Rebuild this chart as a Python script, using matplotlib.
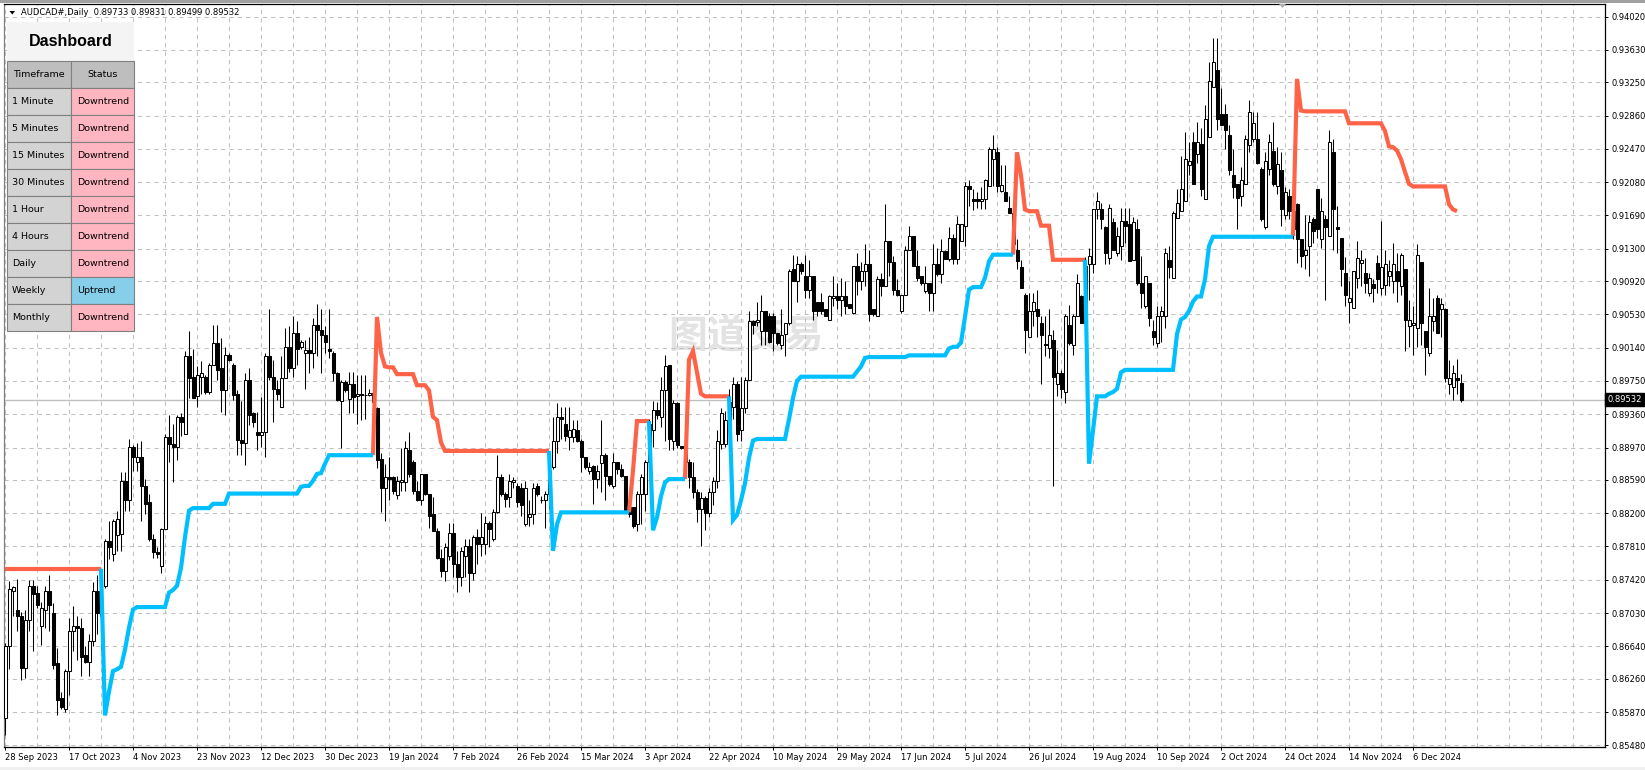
import matplotlib.pyplot as plt
from matplotlib.patches import Rectangle, Polygon
import matplotlib.transforms as mtransforms

plt.rcParams['font.family'] = ['DejaVu Sans']

# AUDCAD daily bars, prices in 1/10000 (8664 -> 0.8664)
opens = [
    8580, 8664, 8729, 8707, 8699, 8639, 8695, 8735, 8727, 8688,
    8707, 8729, 8703, 8644, 8603, 8591, 8635, 8682, 8688, 8686,
    8654, 8646, 8670, 8729, 8703, 8735, 8788, 8772, 8794, 8796,
    8858, 8835, 8898, 8880, 8886, 8852, 8833, 8790, 8775, 8758,
    8801, 8909, 8901, 8898, 8933, 8913, 9004, 8980, 8957, 8980,
    8980, 8962, 8994, 9019, 8990, 8964, 9006, 8994, 8960, 8906,
    8902, 8976, 8937, 8915, 8912, 8915, 9004, 8980, 8966, 8945,
    8978, 9015, 8990, 9031, 9015, 9008, 9011, 9008, 9041, 9035,
    9029, 9013, 9008, 8984, 8951, 8974, 8954, 8971, 8957, 8960,
    8958, 8958, 8961, 8943, 8884, 8849, 8862, 8862, 8841, 8857,
    8856, 8894, 8880, 8846, 8835, 8866, 8843, 8819, 8799, 8768,
    8752, 8770, 8797, 8760, 8745, 8770, 8782, 8750, 8792, 8784,
    8784, 8809, 8790, 8821, 8862, 8843, 8839, 8857, 8852, 8850,
    8807, 8815, 8819, 8852, 8836, 8835, 8843, 8874, 8905, 8933,
    8925, 8909, 8909, 8917, 8905, 8886, 8869, 8875, 8860, 8879,
    8888, 8864, 8852, 8880, 8872, 8864, 8827, 8827, 8807, 8843,
    8843, 8880, 8917, 8941, 8933, 8964, 8994, 8905, 8949, 8899,
    8897, 8880, 8862, 8845, 8825, 8838, 8820, 8845, 8858, 8901,
    8901, 8929, 8945, 8972, 8917, 8943, 8976, 9045, 9044, 9033,
    9057, 9051, 9051, 9031, 9017, 9030, 9043, 9106, 9092, 9112,
    9098, 9082, 9098, 9068, 9068, 9059, 9047, 9072, 9074, 9070,
    9074, 9065, 9055, 9110, 9092, 9104, 9112, 9059, 9051, 9094,
    9086, 9139, 9115, 9082, 9057, 9076, 9129, 9145, 9110, 9098,
    9080, 9090, 9078, 9112, 9100, 9127, 9118, 9143, 9118, 9139,
    9157, 9204, 9188, 9188, 9186, 9188, 9204, 9235, 9243, 9198,
    9197, 9178, 9172, 9129, 9108, 9076, 9027, 9057, 9059, 9043,
    9018, 9014, 9023, 8972, 8984, 8962, 9041, 9017, 9051, 9074,
    9043, 9112, 9112, 9176, 9176, 9155, 9119, 9161, 9125, 9133,
    9163, 9159, 9117, 9153, 9090, 9063, 9090, 9033, 9019, 9051,
    9051, 9117, 9096, 9166, 9174, 9186, 9228, 9255, 9241, 9253,
    9188, 9261, 9320, 9339, 9288, 9288, 9263, 9216, 9206, 9192,
    9206, 9251, 9259, 9259, 9224, 9155, 9224, 9245, 9204, 9222,
    9169, 9192, 9174, 9182, 9141, 9123, 9133, 9165, 9200, 9141,
    9165, 9145, 9243, 9155, 9143, 9102, 9068, 9061, 9096, 9113,
    9102, 9078, 9089, 9113, 9084, 9088, 9098, 9092, 9104, 9086,
    9106, 9039, 9041, 9037, 9115, 9033, 9008, 9045, 9072, 9059,
    9059, 8972, 8968, 8978, 8973,
]
highs = [
    8668, 8741, 8735, 8743, 8704, 8707, 8742, 8742, 8735, 8716,
    8735, 8748, 8715, 8662, 8611, 8638, 8697, 8711, 8699, 8697,
    8664, 8678, 8739, 8748, 8740, 8790, 8811, 8813, 8823, 8868,
    8868, 8907, 8900, 8902, 8905, 8860, 8843, 8796, 8780, 8803,
    8913, 8935, 8925, 8935, 8937, 9010, 9033, 9012, 8992, 8998,
    8982, 8996, 9041, 9041, 9025, 9015, 9008, 8996, 8964, 8951,
    8984, 8990, 8939, 8939, 8956, 9008, 9059, 9000, 8976, 9004,
    9037, 9039, 9051, 9045, 9023, 9023, 9027, 9049, 9065, 9059,
    9039, 9059, 9010, 8986, 8976, 8976, 8986, 8986, 8982, 8982,
    8982, 8966, 8962, 8945, 8890, 8878, 8886, 8864, 8864, 8896,
    8905, 8915, 8882, 8858, 8866, 8866, 8843, 8839, 8803, 8778,
    8785, 8809, 8809, 8776, 8780, 8790, 8790, 8795, 8802, 8820,
    8817, 8811, 8825, 8888, 8866, 8845, 8866, 8862, 8855, 8855,
    8858, 8836, 8855, 8855, 8840, 8846, 8880, 8933, 8949, 8945,
    8945, 8945, 8929, 8929, 8907, 8886, 8880, 8877, 8876, 8929,
    8891, 8864, 8891, 8880, 8878, 8864, 8829, 8827, 8846, 8866,
    8882, 8930, 8951, 8950, 8980, 9006, 8994, 8953, 8950, 8899,
    8900, 8884, 8880, 8848, 8845, 8840, 8850, 8862, 8917, 8943,
    8940, 8965, 8980, 8975, 8980, 8980, 9057, 9047, 9068, 9076,
    9057, 9055, 9055, 9031, 9059, 9043, 9106, 9123, 9121, 9114,
    9123, 9117, 9098, 9068, 9078, 9059, 9076, 9098, 9090, 9096,
    9092, 9065, 9110, 9125, 9114, 9135, 9129, 9059, 9098, 9102,
    9182, 9139, 9121, 9094, 9076, 9133, 9157, 9145, 9129, 9098,
    9110, 9090, 9135, 9131, 9141, 9129, 9155, 9147, 9168, 9159,
    9208, 9210, 9200, 9196, 9202, 9212, 9249, 9263, 9249, 9228,
    9228, 9192, 9175, 9141, 9117, 9078, 9078, 9078, 9082, 9051,
    9051, 9059, 9035, 9011, 8988, 9053, 9064, 9053, 9100, 9076,
    9120, 9131, 9176, 9196, 9184, 9157, 9182, 9166, 9155, 9178,
    9178, 9178, 9167, 9165, 9121, 9098, 9090, 9047, 9063, 9063,
    9131, 9133, 9174, 9200, 9239, 9267, 9255, 9267, 9278, 9271,
    9298, 9349, 9377, 9377, 9318, 9300, 9275, 9247, 9206, 9226,
    9263, 9304, 9290, 9290, 9226, 9243, 9265, 9278, 9249, 9243,
    9202, 9200, 9190, 9184, 9141, 9170, 9170, 9167, 9200, 9190,
    9170, 9269, 9259, 9180, 9143, 9120, 9092, 9104, 9139, 9129,
    9119, 9102, 9094, 9123, 9163, 9129, 9117, 9137, 9125, 9125,
    9106, 9070, 9063, 9135, 9115, 9033, 9084, 9072, 9076, 9072,
    9061, 8999, 8994, 9001, 8983,
]
lows = [
    8560, 8638, 8700, 8682, 8624, 8627, 8682, 8658, 8709, 8666,
    8685, 8682, 8637, 8583, 8591, 8587, 8607, 8658, 8648, 8629,
    8644, 8629, 8664, 8678, 8660, 8732, 8766, 8764, 8776, 8776,
    8823, 8823, 8870, 8870, 8811, 8819, 8788, 8768, 8768, 8750,
    8801, 8880, 8856, 8882, 8910, 8913, 8955, 8955, 8945, 8960,
    8960, 8960, 8994, 8976, 8939, 8935, 8998, 8953, 8888, 8888,
    8876, 8923, 8921, 8894, 8898, 8886, 8976, 8927, 8953, 8945,
    8978, 8986, 8980, 8994, 9013, 8966, 8984, 8990, 9004, 8984,
    9008, 9002, 8975, 8951, 8896, 8962, 8937, 8937, 8925, 8929,
    8931, 8957, 8930, 8873, 8821, 8811, 8835, 8843, 8837, 8846,
    8846, 8862, 8842, 8834, 8830, 8841, 8803, 8799, 8766, 8745,
    8740, 8765, 8745, 8728, 8735, 8745, 8728, 8742, 8760, 8770,
    8772, 8780, 8788, 8820, 8840, 8827, 8827, 8850, 8827, 8817,
    8805, 8805, 8807, 8840, 8832, 8803, 8825, 8872, 8890, 8907,
    8905, 8894, 8903, 8903, 8868, 8872, 8866, 8831, 8850, 8845,
    8835, 8852, 8850, 8866, 8862, 8823, 8815, 8803, 8799, 8807,
    8823, 8875, 8898, 8930, 8921, 8905, 8894, 8894, 8896, 8895,
    8862, 8850, 8838, 8810, 8782, 8800, 8815, 8830, 8850, 8895,
    8898, 8920, 8930, 8905, 8905, 8937, 8976, 9030, 9040, 9017,
    9017, 9019, 9010, 9017, 9013, 9004, 9041, 9092, 9068, 9100,
    9072, 9072, 9047, 9051, 9053, 9051, 9047, 9063, 9059, 9051,
    9053, 9061, 9053, 9076, 9082, 9086, 9045, 9051, 9051, 9074,
    9086, 9098, 9076, 9074, 9055, 9076, 9129, 9110, 9092, 9088,
    9078, 9057, 9057, 9098, 9090, 9118, 9116, 9112, 9112, 9139,
    9133, 9180, 9175, 9178, 9176, 9176, 9204, 9204, 9196, 9196,
    9186, 9172, 9130, 9106, 9084, 9008, 9027, 9039, 9027, 8972,
    9004, 9002, 8852, 8957, 8955, 8949, 9017, 9006, 9051, 9043,
    9035, 9070, 9102, 9165, 9153, 9112, 9112, 9129, 9121, 9117,
    9137, 9116, 9117, 9088, 9061, 9061, 9039, 9017, 9015, 9021,
    9037, 9096, 9096, 9166, 9174, 9186, 9216, 9206, 9231, 9192,
    9188, 9261, 9320, 9269, 9275, 9247, 9216, 9190, 9153, 9180,
    9206, 9243, 9255, 9229, 9163, 9153, 9216, 9204, 9194, 9157,
    9165, 9165, 9141, 9113, 9108, 9106, 9098, 9137, 9143, 9131,
    9070, 9145, 9129, 9125, 9086, 9063, 9043, 9061, 9084, 9086,
    9078, 9074, 9068, 9078, 9076, 9076, 9086, 9078, 9068, 9076,
    9010, 9015, 9006, 9015, 9017, 8982, 9004, 9033, 9031, 9027,
    8974, 8960, 8953, 8960, 8950,
]
closes = [
    8664, 8731, 8733, 8699, 8639, 8695, 8735, 8725, 8713, 8709,
    8729, 8713, 8642, 8601, 8593, 8635, 8682, 8688, 8686, 8652,
    8646, 8670, 8729, 8703, 8700, 8788, 8780, 8811, 8813, 8858,
    8835, 8898, 8886, 8886, 8852, 8831, 8790, 8774, 8772, 8801,
    8909, 8901, 8898, 8933, 8927, 9004, 8978, 8955, 8982, 8984,
    8962, 8994, 9019, 8988, 8964, 9006, 9000, 8959, 8906, 8902,
    8976, 8935, 8927, 8912, 8915, 9004, 8980, 8966, 8960, 8978,
    9015, 8990, 9031, 9013, 9021, 9011, 9008, 9041, 9035, 9029,
    9021, 9010, 8984, 8953, 8974, 8964, 8972, 8956, 8960, 8959,
    8959, 8961, 8950, 8882, 8849, 8862, 8860, 8846, 8858, 8859,
    8896, 8866, 8846, 8835, 8866, 8843, 8817, 8799, 8768, 8752,
    8780, 8797, 8760, 8745, 8776, 8782, 8750, 8792, 8784, 8792,
    8809, 8801, 8822, 8862, 8843, 8837, 8858, 8859, 8833, 8830,
    8850, 8819, 8850, 8843, 8835, 8843, 8870, 8905, 8933, 8931,
    8911, 8917, 8919, 8905, 8886, 8874, 8874, 8860, 8870, 8888,
    8864, 8854, 8880, 8872, 8864, 8823, 8819, 8805, 8843, 8862,
    8880, 8925, 8941, 8935, 8964, 8992, 8907, 8949, 8900, 8897,
    8880, 8862, 8845, 8825, 8838, 8820, 8845, 8858, 8905, 8937,
    8929, 8950, 8972, 8913, 8943, 8976, 9045, 9041, 9047, 9057,
    9033, 9021, 9031, 9019, 9029, 9043, 9104, 9092, 9112, 9104,
    9082, 9098, 9057, 9057, 9057, 9051, 9074, 9074, 9070, 9074,
    9063, 9061, 9110, 9092, 9104, 9112, 9053, 9053, 9094, 9086,
    9139, 9115, 9082, 9076, 9076, 9129, 9145, 9110, 9096, 9090,
    9090, 9078, 9112, 9100, 9127, 9118, 9143, 9118, 9159, 9159,
    9204, 9200, 9186, 9186, 9188, 9210, 9247, 9247, 9204, 9205,
    9186, 9172, 9135, 9116, 9084, 9035, 9057, 9068, 9051, 9029,
    9017, 9029, 8980, 8984, 8966, 9051, 9019, 9051, 9090, 9043,
    9110, 9121, 9176, 9186, 9165, 9125, 9178, 9129, 9145, 9163,
    9157, 9116, 9161, 9090, 9078, 9098, 9049, 9027, 9051, 9057,
    9125, 9108, 9172, 9184, 9200, 9235, 9233, 9206, 9255, 9200,
    9282, 9326, 9349, 9282, 9275, 9269, 9222, 9202, 9190, 9210,
    9259, 9290, 9277, 9231, 9165, 9233, 9255, 9206, 9229, 9176,
    9196, 9174, 9153, 9141, 9121, 9129, 9161, 9151, 9153, 9174,
    9155, 9255, 9176, 9153, 9106, 9076, 9072, 9104, 9119, 9117,
    9090, 9096, 9084, 9094, 9108, 9112, 9104, 9112, 9092, 9123,
    9047, 9047, 9043, 9123, 9043, 9015, 9051, 9051, 9031, 9065,
    8978, 8978, 8984, 8976, 8953,
]

# trend lines: (first bar, [(level, number of bars), ...])
red_runs = [
    (0, [(8755, 25)]),
    (92, [(8888, 1), (9050, 1), (9008, 1), (8992, 1), (8991, 2), (8983, 5),
          (8970, 3), (8964, 1), (8933, 1), (8929, 1), (8903, 1), (8893, 27)]),
    (156, [(8821, 1), (8870, 1), (8928, 4)]),
    (170, [(8860, 1), (9000, 1), (9010, 1), (8985, 1), (8960, 1), (8957, 7)]),
    (252, [(9123, 1), (9243, 1), (9216, 1), (9176, 1), (9174, 3), (9157, 3), (9117, 9)]),
    (322, [(9145, 1), (9329, 1), (9292, 1), (9291, 11), (9277, 9), (9268, 1),
           (9250, 1), (9249, 1), (9245, 1), (9235, 1), (9220, 1), (9206, 1),
           (9203, 9), (9182, 1), (9176, 1), (9174, 1)]),
]
blue_runs = [
    (24, [(8755, 1), (8583, 1), (8611, 1), (8635, 1), (8637, 1), (8640, 1),
          (8660, 1), (8686, 1), (8707, 1), (8710, 8), (8727, 1), (8730, 1),
          (8735, 1), (8756, 1), (8792, 1), (8823, 1), (8826, 5), (8831, 4),
          (8843, 18), (8851, 1), (8852, 2), (8858, 1), (8866, 1), (8867, 1),
          (8878, 1), (8888, 12)]),
    (136, [(8893, 1), (8776, 1), (8807, 1), (8821, 18)]),
    (161, [(8928, 1), (8800, 1), (8815, 1), (8840, 1), (8856, 1), (8860, 5)]),
    (181, [(8957, 1), (8812, 1), (8818, 1), (8835, 1), (8855, 1), (8885, 1),
           (8905, 1), (8907, 8), (8930, 1), (8955, 1), (8975, 1), (8980, 14),
           (8986, 1), (8992, 1), (9002, 1), (9003, 10), (9005, 10), (9013, 1),
           (9015, 2), (9020, 1), (9050, 1), (9082, 1), (9085, 3), (9096, 1),
           (9115, 1), (9123, 6)]),
    (270, [(9117, 1), (8878, 1), (8917, 1), (8957, 3), (8960, 1), (8962, 1),
           (8966, 1), (8985, 1), (8988, 13), (9030, 1), (9047, 1), (9050, 1),
           (9057, 1), (9068, 1), (9074, 2), (9094, 1), (9133, 1), (9144, 21)]),
]

date_labels = ["28 Sep 2023", "17 Oct 2023", "4 Nov 2023", "23 Nov 2023", "12 Dec 2023",
               "30 Dec 2023", "19 Jan 2024", "7 Feb 2024", "26 Feb 2024", "15 Mar 2024",
               "3 Apr 2024", "22 Apr 2024", "10 May 2024", "29 May 2024", "17 Jun 2024",
               "5 Jul 2024", "26 Jul 2024", "19 Aug 2024", "10 Sep 2024", "2 Oct 2024",
               "24 Oct 2024", "14 Nov 2024", "6 Dec 2024"]
price_ticks = [0.94020, 0.93630, 0.93250, 0.92860, 0.92470, 0.92080, 0.91690, 0.91300,
               0.90920, 0.90530, 0.90140, 0.89750, 0.89360, 0.88970, 0.88590, 0.88200,
               0.87810, 0.87420, 0.87030, 0.86640, 0.86260, 0.85870, 0.85480]
last_price = 0.89532
header = "AUDCAD#,Daily  0.89733 0.89831 0.89499 0.89532"

timeframes = ["1 Minute", "5 Minutes", "15 Minutes", "30 Minutes", "1 Hour",
              "4 Hours", "Daily", "Weekly", "Monthly"]
statuses = ["Downtrend", "Downtrend", "Downtrend", "Downtrend", "Downtrend",
            "Downtrend", "Downtrend", "Uptrend", "Downtrend"]


def expand(runs):
    out = []
    for start, steps in runs:
        xs, ys = [], []
        i = start
        for level, count in steps:
            for _ in range(count):
                xs.append(i)
                ys.append(level / 10000)
                i += 1
        out.append((xs, ys))
    return out


W, H = 1645, 770
fig = plt.figure(figsize=(W / 100, H / 100), dpi=100)
fig.patch.set_facecolor("white")
ax = fig.add_axes([3.5 / W, 23 / H, (1605 - 3.5) / W, (747 - 4) / H])
ax.set_xlim(-0.375, 400)
ax.set_ylim(0.85460, 0.94168)

# candles
bars = list(range(len(closes)))
o = [v / 10000 for v in opens]
h = [v / 10000 for v in highs]
l = [v / 10000 for v in lows]
c = [v / 10000 for v in closes]
ax.vlines(bars, l, h, color="black", lw=0.75, zorder=3)
bottoms = [min(a, b) for a, b in zip(o, c)]
heights = [max(abs(a - b), 0.00002) for a, b in zip(o, c)]
faces = ["white" if b >= a else "black" for a, b in zip(o, c)]
ax.bar(bars, heights, bottom=bottoms, width=0.75, color=faces,
       edgecolor="black", linewidth=0.75, zorder=4)

# trend lines
for xs, ys in expand(red_runs):
    ax.plot(xs, ys, color="#FF6347", lw=3.0, solid_capstyle="butt",
            solid_joinstyle="miter", zorder=5)
for xs, ys in expand(blue_runs):
    ax.plot(xs, ys, color="#00BFFF", lw=3.0, solid_capstyle="butt",
            solid_joinstyle="miter", zorder=5)

ax.axhline(last_price, color="#C0C0C0", lw=1.0, zorder=1)

# axes, ticks, grid
ax.yaxis.tick_right()
ax.set_yticks(price_ticks)
ax.set_yticklabels([f"{v:.5f}" for v in price_ticks])
ax.set_xticks([16 * k for k in range(len(date_labels))])
ax.set_xticklabels(date_labels)
for lbl in ax.get_xticklabels():
    lbl.set_ha("left")
ax.set_xticks(list(range(8, 401, 8)), minor=True)
ax.tick_params(axis="x", which="major", length=2.5, width=0.7, pad=1.5, labelsize=6)
ax.tick_params(axis="x", which="minor", length=0)
ax.tick_params(axis="y", length=2.5, width=0.7, pad=2, labelsize=6)
grid_style = dict(color="#C0C0C0", lw=0.75, linestyle=(0, (4, 4)))
ax.grid(axis="y", **grid_style)
ax.grid(axis="x", which="both", **grid_style)
ax.set_axisbelow(True)
for side in ["right", "bottom", "top"]:
    ax.spines[side].set_color("black")
    ax.spines[side].set_linewidth(0.9)
ax.spines["left"].set_color("#808080")
ax.spines["left"].set_linewidth(0.9)

# current price box
trans = mtransforms.blended_transform_factory(ax.transAxes, ax.transData)
ax.text(1.0015, last_price, "0.89532", transform=trans, ha="left", va="center",
        fontsize=6, color="white", zorder=10, clip_on=False,
        bbox=dict(boxstyle="square,pad=0.25", fc="black", ec="black"))

# watermark
ax.text((746 - 3.5) / 1601.5, (747 - 337) / 743, "图道交易", transform=ax.transAxes,
        ha="center", va="center", fontsize=28, fontweight="bold",
        family=["Noto Sans CJK SC", "DejaVu Sans"], color="#E3E3E3", zorder=0.5)

# overlay in pixel coordinates for the dashboard and chart header
ov = fig.add_axes([0, 0, 1, 1])
ov.set_xlim(0, W)
ov.set_ylim(H, 0)
ov.axis("off")
ov.set_zorder(10)

ov.add_patch(Rectangle((0, 0), W, 3, fc="#A0A0A0", ec="none"))
ov.add_patch(Rectangle((0, 767), W, 3, fc="#F0F0F0", ec="none"))
ov.add_patch(Polygon([(9.5, 11), (15, 11), (12.25, 14.5)], closed=True, fc="black", ec="none"))
ov.text(21, 12.8, header, fontsize=6, va="center", ha="left", color="black")
ov.add_patch(Polygon([(1279, 4), (1286, 4), (1282.5, 8)], closed=True, fc="#B0B0B0", ec="none"))

x0, xm, x1 = 7.3, 70.7, 134.3
ov.add_patch(Rectangle((x0, 22), x1 - x0, 38.7, fc="#F4F4F4", ec="none"))
ov.text((x0 + x1) / 2, 41, "Dashboard", fontsize=11.5, fontweight="bold",
        family=["Liberation Sans", "DejaVu Sans"], ha="center", va="center")
row_h = 27
y = 60.7
ov.add_patch(Rectangle((x0, y), xm - x0, row_h, fc="#BEBEBE", ec="#808080", lw=0.8))
ov.add_patch(Rectangle((xm, y), x1 - xm, row_h, fc="#BEBEBE", ec="#808080", lw=0.8))
ov.text((x0 + xm) / 2, y + row_h / 2, "Timeframe", fontsize=6.8, ha="center", va="center")
ov.text((xm + x1) / 2, y + row_h / 2, "Status", fontsize=6.8, ha="center", va="center")
for tf, st in zip(timeframes, statuses):
    y += row_h
    fc = "#87CEEB" if st == "Uptrend" else "#FFB6C1"
    ov.add_patch(Rectangle((x0, y), xm - x0, row_h, fc="#D3D3D3", ec="#808080", lw=0.8))
    ov.add_patch(Rectangle((xm, y), x1 - xm, row_h, fc=fc, ec="#808080", lw=0.8))
    ov.text(x0 + 4.5, y + row_h / 2, tf, fontsize=6.8, ha="left", va="center")
    ov.text(xm + 6, y + row_h / 2, st, fontsize=6.8, ha="left", va="center")

fig.savefig("out.png", dpi=100)
